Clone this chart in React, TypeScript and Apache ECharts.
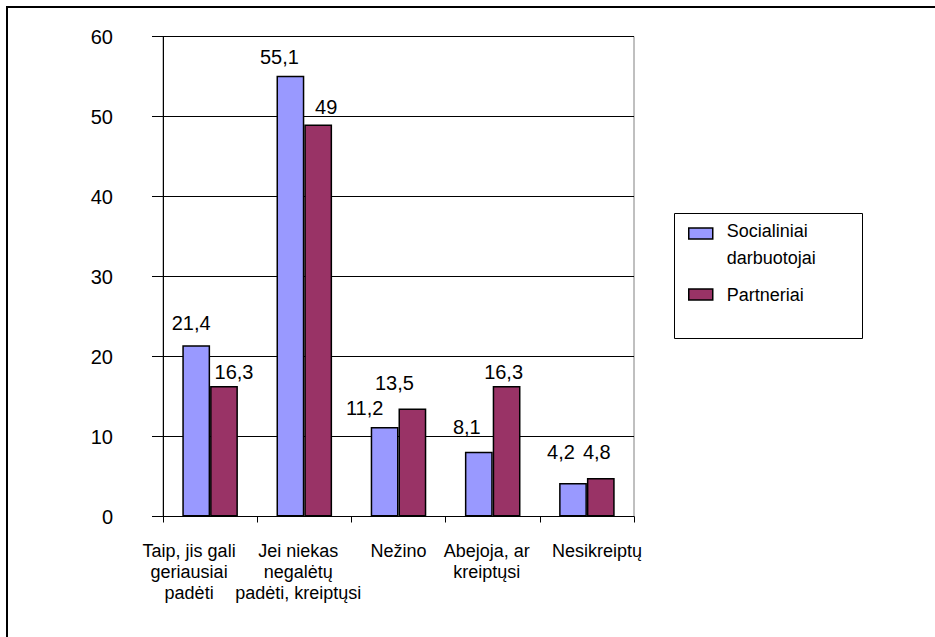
import React, { useEffect, useRef } from "react";
import * as echarts from "echarts";

const categories = [
  "Taip, jis gali\ngeriausiai\npadėti",
  "Jei niekas\nnegalėtų\npadėti, kreiptųsi",
  "Nežino",
  "Abejoja, ar\nkreiptųsi",
  "Nesikreiptų",
];
const seriesNames = ["Socialiniai darbuotojai", "Partneriai"];
const socialiniai = [21.4, 55.1, 11.2, 8.1, 4.2];
const partneriai = [16.3, 49, 13.5, 16.3, 4.8];
const yTicks = [0, 10, 20, 30, 40, 50, 60];

// label placement tweaks (pixels) to mimic original label positions
const blueLabelDx = [-5, -11, -20, -12, -12];
const blueLabelDy = [-12, -9, -9, -15, -20.6];
const redLabelDx = [10, 8, -18, -3, -4];
const redLabelDy = [-4, -8, -15.5, -4, -15.8];
const catLabelDx = [-21, -6, 0, -6, 10];

const FONT = "'Liberation Sans', Arial, sans-serif";
const fmt = (v: number) => String(v).replace(".", ",");

export default function App() {
  const ref = useRef<HTMLDivElement>(null);
  useEffect(() => {
    if (!ref.current) return;
    const chart = echarts.init(ref.current, undefined, { renderer: "svg" });
    const mkData = (vals: number[], dx: number[], dy: number[]) =>
      vals.map((v, i) => ({ value: v, label: { offset: [dx[i], dy[i]] } }));
    const xData = categories.map((c, i) => {
      const d = catLabelDx[i];
      return {
        value: c,
        textStyle: { padding: d < 0 ? [0, -2 * d, 0, 0] : [0, 0, 0, 2 * d] },
      };
    });
    const legendText = { fontFamily: FONT, fontSize: 18, lineHeight: 27, color: "#000" };
    chart.setOption({
      animation: false,
      backgroundColor: "#fff",
      textStyle: { fontFamily: FONT },
      graphic: [
        {
          type: "rect",
          shape: { x: 7, y: 7, width: 1000, height: 1000 },
          style: { fill: "none", stroke: "#000", lineWidth: 2 },
          silent: true,
        },
        {
          type: "rect",
          shape: { x: 674.5, y: 213.5, width: 188, height: 125 },
          style: { fill: "none", stroke: "#000", lineWidth: 1 },
          silent: true,
        },
      ],
      legend: {
        orient: "vertical",
        left: 688,
        top: 196,
        padding: 0,
        itemWidth: 24,
        itemHeight: 11,
        itemGap: 10,
        icon: "rect",
        itemStyle: { borderColor: "#000", borderWidth: 1.5 },
        formatter: (name: string) => {
          const parts = name.split(" ");
          if (parts.length > 1) {
            return "{pad| }\n" + parts.map((p) => "{t|" + p + "}").join("\n");
          }
          return "{t|" + name + "}";
        },
        textStyle: {
          ...legendText,
          padding: [0, 0, 0, 9],
          rich: {
            pad: { fontFamily: FONT, fontSize: 18, lineHeight: 21 },
            t: legendText,
          },
        },
        data: [seriesNames[0], seriesNames[1]],
      },
      grid: {
        left: 163,
        right: 301,
        top: 36.5,
        bottom: 120.5,
        show: true,
        borderColor: "#808080",
        borderWidth: 1,
        backgroundColor: "transparent",
      },
      xAxis: {
        type: "category",
        data: xData,
        boundaryGap: true,
        axisLine: { show: true, lineStyle: { color: "#000", width: 1 } },
        axisTick: { show: true, length: 6, interval: 0, lineStyle: { color: "#000" } },
        axisLabel: {
          interval: 0,
          margin: 24,
          fontFamily: FONT,
          fontSize: 18,
          lineHeight: 21,
          color: "#000",
          align: "center",
        },
        splitLine: { show: false },
      },
      yAxis: {
        type: "value",
        min: yTicks[0],
        max: yTicks[yTicks.length - 1],
        interval: 10,
        axisLine: { show: true, lineStyle: { color: "#000", width: 1 } },
        axisTick: { show: true, length: 11, lineStyle: { color: "#000" } },
        axisLabel: { margin: 50, fontFamily: FONT, fontSize: 20, color: "#000" },
        splitLine: { show: true, lineStyle: { color: "#000", width: 1 } },
      },
      series: [
        {
          name: seriesNames[0],
          type: "bar",
          data: mkData(socialiniai, blueLabelDx, blueLabelDy),
          barGap: "0%",
          barCategoryGap: "41%",
          itemStyle: { color: "#9999FF", borderColor: "#000", borderWidth: 1.5 },
          label: {
            show: true,
            position: "top",
            distance: 0,
            fontFamily: FONT,
            fontSize: 20,
            color: "#000",
            formatter: (p: any) => fmt(p.value),
          },
        },
        {
          name: seriesNames[1],
          type: "bar",
          data: mkData(partneriai, redLabelDx, redLabelDy),
          barGap: "0%",
          barCategoryGap: "41%",
          itemStyle: { color: "#993366", borderColor: "#000", borderWidth: 1.5 },
          label: {
            show: true,
            position: "top",
            distance: 0,
            fontFamily: FONT,
            fontSize: 20,
            color: "#000",
            formatter: (p: any) => fmt(p.value),
          },
        },
      ],
    });
    return () => chart.dispose();
  }, []);
  return (
    <div
      ref={ref}
      style={{ position: "fixed", left: 0, top: 0, width: 935, height: 637 }}
    />
  );
}
